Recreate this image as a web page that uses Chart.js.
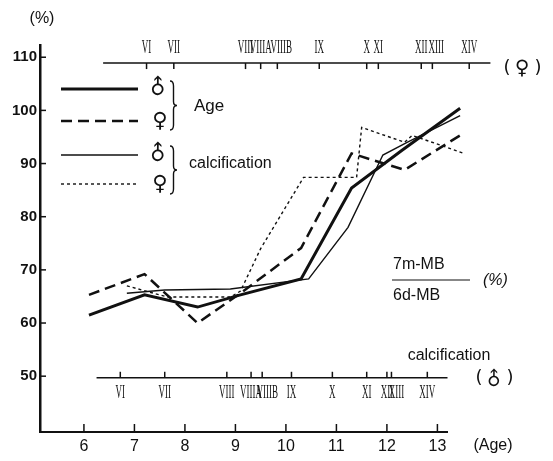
<!DOCTYPE html>
<html>
<head>
<meta charset="utf-8">
<script src="https://cdn.jsdelivr.net/npm/chart.js@4"></script>
<style>
  body { margin: 0; background: #fff; }
  canvas { display: block; }
</style>
</head>
<body>
<canvas id="mbChart" width="553" height="461"></canvas>
<script>
// axis ticks
const ageTicks = [6, 7, 8, 9, 10, 11, 12, 13];
const pctTicks = [50, 60, 70, 80, 90, 100, 110];

// 7m-MB / 6d-MB ratio (%) by age
const ageMaleX = [6.1, 7.2, 8.25, 9.1, 10.3, 11.3, 12.3, 13.45];
const ageMaleY = [61.5, 65.3, 63.0, 65.3, 68.3, 85.4, 92.5, 100.4];
const ageFemaleX = [6.1, 7.2, 8.25, 9.1, 10.3, 11.3, 12.35, 13.45];
const ageFemaleY = [65.3, 69.2, 60.0, 65.6, 74.1, 91.9, 88.8, 95.3];

// same ratio by calcification stage (plotted at the stage's mean age)
const calcMaleX = [6.85, 7.6, 8.9, 10.45, 11.23, 11.92, 12.4, 13.45];
const calcMaleY = [65.6, 66.2, 66.4, 68.3, 78.0, 91.6, 94.0, 99.0];
const calcFemaleX = [6.85, 7.65, 8.9, 9.1, 9.5, 10.35, 11.4, 11.5, 12.35, 12.5, 13.5];
const calcFemaleY = [67.0, 64.9, 64.9, 66.0, 74.0, 87.4, 87.4, 96.8, 94.0, 95.3, 92.0];

// calcification stage scales (stage name -> mean age)
const stageLabels = ['VI', 'VII', 'VIII', 'VIIIA', 'VIIIB', 'IX', 'X', 'XI', 'XII', 'XIII', 'XIV'];
const stageFemaleAge = [7.24, 7.78, 9.2, 9.5, 9.83, 10.66, 11.6, 11.83, 12.68, 12.9, 13.63];
const stageMaleAge = [6.72, 7.6, 8.83, 9.31, 9.53, 10.11, 10.92, 11.6, 12.0, 12.09, 12.8];

const INK = '#111';

function pts(xs, ys) {
  return xs.map((x, i) => ({ x: x, y: ys[i] }));
}

// crowded stages get their label pushed a little right, like in the print
function drawRoman(ctx, text, x, y) {
  ctx.save();
  ctx.translate(x, y);
  ctx.scale(0.5, 1);
  ctx.font = '18px "Liberation Serif", serif';
  ctx.textAlign = 'center';
  ctx.textBaseline = 'middle';
  ctx.fillText(text, 0, 0);
  ctx.restore();
}

// male sign turned so the arrow points straight up, as in the original
function drawMale(ctx, x, y, size) {
  ctx.save();
  ctx.translate(x, y);
  ctx.rotate(-Math.PI / 4);
  ctx.font = size + 'px "DejaVu Sans", sans-serif';
  ctx.textAlign = 'center';
  ctx.textBaseline = 'middle';
  ctx.fillText('\u2642', 0, 0);
  ctx.restore();
}

function drawFemale(ctx, x, y, size) {
  ctx.font = size + 'px "DejaVu Sans", sans-serif';
  ctx.textAlign = 'center';
  ctx.textBaseline = 'middle';
  ctx.fillText('\u2640', x, y);
}

function drawBrace(ctx, x, y1, y2, w) {
  const mid = (y1 + y2) / 2;
  ctx.beginPath();
  ctx.moveTo(x, y1);
  ctx.quadraticCurveTo(x + w / 2, y1, x + w / 2, y1 + 5);
  ctx.lineTo(x + w / 2, mid - 4);
  ctx.quadraticCurveTo(x + w / 2, mid, x + w, mid);
  ctx.quadraticCurveTo(x + w / 2, mid, x + w / 2, mid + 4);
  ctx.lineTo(x + w / 2, y2 - 5);
  ctx.quadraticCurveTo(x + w / 2, y2, x, y2);
  ctx.stroke();
}

const decorations = {
  id: 'decorations',
  afterDraw(chart) {
    const ctx = chart.ctx;
    const xs = chart.scales.x;
    const ys = chart.scales.y;
    const area = chart.chartArea;
    ctx.save();
    ctx.strokeStyle = INK;
    ctx.fillStyle = INK;

    // inward tick marks
    ctx.lineWidth = 1.5;
    pctTicks.forEach(v => {
      const py = ys.getPixelForValue(v);
      ctx.beginPath();
      ctx.moveTo(area.left, py);
      ctx.lineTo(area.left + 6, py);
      ctx.stroke();
    });
    ageTicks.forEach(v => {
      const px = xs.getPixelForValue(v);
      ctx.beginPath();
      ctx.moveTo(px, area.bottom);
      ctx.lineTo(px, area.bottom - 8);
      ctx.stroke();
    });

    // female calcification scale (top)
    const topY = ys.getPixelForValue(108.9);
    ctx.lineWidth = 1.5;
    ctx.beginPath();
    ctx.moveTo(xs.getPixelForValue(6.38), topY);
    ctx.lineTo(xs.getPixelForValue(14.05), topY);
    ctx.stroke();
    stageFemaleAge.forEach((a, i) => {
      const px = xs.getPixelForValue(a);
      ctx.beginPath();
      ctx.moveTo(px, topY);
      ctx.lineTo(px, topY + 6);
      ctx.stroke();
      const nudge = (stageLabels[i] === 'VIIIB' || stageLabels[i] === 'XIII') ? 4 : 0;
      drawRoman(ctx, stageLabels[i], px + nudge, topY - 15);
    });
    ctx.font = '18px "DejaVu Sans", sans-serif';
    ctx.textAlign = 'center';
    ctx.textBaseline = 'middle';
    ctx.fillText('(', 507, topY + 5);
    ctx.fillText(')', 538, topY + 5);
    drawFemale(ctx, 522, topY + 6, 20);

    // male calcification scale (bottom)
    const botY = ys.getPixelForValue(49.7);
    ctx.beginPath();
    ctx.moveTo(xs.getPixelForValue(6.25), botY);
    ctx.lineTo(xs.getPixelForValue(13.2), botY);
    ctx.stroke();
    stageMaleAge.forEach((a, i) => {
      const px = xs.getPixelForValue(a);
      ctx.beginPath();
      ctx.moveTo(px, botY);
      ctx.lineTo(px, botY - 6);
      ctx.stroke();
      const nudge = (stageLabels[i] === 'VIIIB' || stageLabels[i] === 'XIII') ? 5 : 0;
      drawRoman(ctx, stageLabels[i], px + nudge, botY + 15);
    });
    ctx.font = '18px "DejaVu Sans", sans-serif';
    ctx.textAlign = 'center';
    ctx.fillText('(', 479, botY + 1);
    ctx.fillText(')', 510, botY + 1);
    drawMale(ctx, 495, botY + 2, 19);
    ctx.font = '16px "Liberation Sans", sans-serif';
    ctx.fillText('calcification', 449, botY - 22);

    // legend
    const rows = [89, 121, 155, 184];
    chart.data.datasets.forEach((ds, i) => {
      ctx.save();
      ctx.lineWidth = ds.borderWidth;
      ctx.setLineDash(ds.borderDash || []);
      ctx.beginPath();
      ctx.moveTo(61, rows[i]);
      ctx.lineTo(138, rows[i]);
      ctx.stroke();
      ctx.restore();
      if (i % 2 === 0) drawMale(ctx, 159, rows[i] - 1, 21);
      else drawFemale(ctx, 160, rows[i] + 1, 21);
    });
    ctx.lineWidth = 1.4;
    drawBrace(ctx, 170, 81, 130, 7);
    drawBrace(ctx, 170, 146, 194, 7);
    ctx.textAlign = 'left';
    ctx.font = '17px "Liberation Sans", sans-serif';
    ctx.fillText('Age', 194, 106);
    ctx.font = '16px "Liberation Sans", sans-serif';
    ctx.fillText('calcification', 189, 164);

    // y-axis title as a fraction
    ctx.textAlign = 'left';
    ctx.font = '16px "Liberation Sans", sans-serif';
    ctx.fillText('7m-MB', 393, 265);
    ctx.fillText('6d-MB', 393, 296);
    ctx.lineWidth = 1.2;
    ctx.beginPath();
    ctx.moveTo(392, 280);
    ctx.lineTo(470, 280);
    ctx.stroke();
    ctx.font = 'italic 16px "Liberation Sans", sans-serif';
    ctx.fillText('(%)', 483, 281);

    // unit labels
    ctx.font = '16px "Liberation Sans", sans-serif';
    ctx.textAlign = 'center';
    ctx.fillText('(%)', 42, 19);
    ctx.fillText('(Age)', 493, 446);

    ctx.restore();
  }
};

const thinDash = [3, 3];

new Chart(document.getElementById('mbChart'), {
  type: 'scatter',
  data: {
    datasets: [
      { label: 'Age \u2642', data: pts(ageMaleX, ageMaleY), borderColor: INK, borderWidth: 3, borderDash: [] },
      { label: 'Age \u2640', data: pts(ageFemaleX, ageFemaleY), borderColor: INK, borderWidth: 2.5, borderDash: [11, 6] },
      { label: 'calcification \u2642', data: pts(calcMaleX, calcMaleY), borderColor: INK, borderWidth: 1.4, borderDash: [] },
      { label: 'calcification \u2640', data: pts(calcFemaleX, calcFemaleY), borderColor: INK, borderWidth: 1.4, borderDash: thinDash }
    ].map(ds => Object.assign(ds, { showLine: true, pointRadius: 0, fill: false, tension: 0, clip: false }))
  },
  options: {
    responsive: false,
    animation: false,
    layout: { padding: { left: 0, right: 106, top: 45, bottom: 0 } },
    plugins: {
      legend: { display: false },
      tooltip: { enabled: false }
    },
    scales: {
      x: {
        type: 'linear',
        min: 5.13,
        max: 13.19,
        afterBuildTicks: s => { s.ticks = ageTicks.map(v => ({ value: v })); },
        afterFit: s => { s.height = 29; },
        grid: { drawOnChartArea: false, drawTicks: false },
        border: { display: true, color: INK, width: 2 },
        ticks: {
          color: INK,
          padding: 5,
          maxRotation: 0,
          font: { family: '"Liberation Sans", sans-serif', size: 16 }
        }
      },
      y: {
        min: 39.5,
        max: 112.3,
        afterBuildTicks: s => { s.ticks = pctTicks.map(v => ({ value: v })); },
        afterFit: s => { s.width = 40; },
        grid: { drawOnChartArea: false, drawTicks: false },
        border: { display: true, color: INK, width: 2.5 },
        ticks: {
          color: INK,
          padding: 3,
          font: { family: '"Liberation Sans", sans-serif', size: 15, weight: 'bold' }
        }
      }
    }
  },
  plugins: [decorations]
});
</script>
</body>
</html>
